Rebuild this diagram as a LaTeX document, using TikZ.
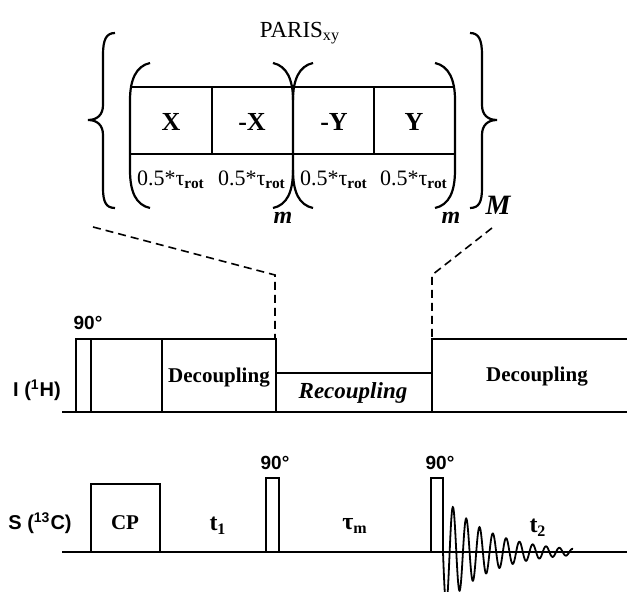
\documentclass[tikz,border=0pt]{standalone}
\usepackage{fontspec}
\setmainfont{Liberation Serif}
\setsansfont{Liberation Sans}
\usetikzlibrary{positioning}

\begin{document}
\begin{tikzpicture}[
    x=0.5pt, y=-0.5pt,
    wire/.style={line width=1pt},
    brace/.style={line width=1.1pt},
    dashline/.style={line width=0.8pt, dash pattern=on 4pt off 2.5pt},
    cell/.style={font=\fontsize{13}{15}\selectfont\bfseries},
    dur/.style={font=\fontsize{11}{13}\selectfont},
    lbl/.style={font=\fontsize{10.5}{12}\selectfont\bfseries},
    tlbl/.style={font=\fontsize{12}{14}\selectfont\bfseries},
    chan/.style={font=\sffamily\fontsize{10}{12}\selectfont\bfseries},
    pulse/.style={font=\sffamily\fontsize{9.5}{11}\selectfont\bfseries},
    rep/.style={font=\fontsize{12}{14}\selectfont\bfseries\itshape},
  ]
    \useasboundingbox (0,0) rectangle (627,592);

    % PARIS block
    \node[font=\fontsize{11.5}{13}\selectfont] (paris) at (300,33) {PARIS\textsubscript{xy}};
    \draw[wire] (130,87) -- (455,87) (130,154) -- (455,154);
    \foreach \xx in {212,293,374}
      \draw[wire] (\xx,87) -- (\xx,154);
    \node[cell] (cx)  at (171,122) {X};
    \node[cell] (cmx) at (252,122) {-X};
    \node[cell] (cmy) at (334,122) {-Y};
    \node[cell] (cy)  at (414,122) {Y};
    \node[dur] (d1) at (171,180) {0.5*τ\textsubscript{\textbf{rot}}};
    \node[dur] (d2) at (252,180) {0.5*τ\textsubscript{\textbf{rot}}};
    \node[dur] (d3) at (334,180) {0.5*τ\textsubscript{\textbf{rot}}};
    \node[dur] (d4) at (414,180) {0.5*τ\textsubscript{\textbf{rot}}};

    % parentheses
    \draw[brace] (150,63) .. controls (136,66) and (130,80) .. (130,100) -- (130,170)
      .. controls (130,192) and (136,205) .. (150,208);
    \draw[brace] (273,63) .. controls (287,66) and (293,80) .. (293,100) -- (293,170)
      .. controls (293,192) and (287,205) .. (273,208);
    \draw[brace] (313,63) .. controls (299,66) and (293,80) .. (293,100);
    \draw[brace] (293,170) .. controls (293,192) and (299,205) .. (313,208);
    \draw[brace] (435,63) .. controls (449,66) and (455,80) .. (455,100) -- (455,170)
      .. controls (455,192) and (449,205) .. (435,208);
    \node[rep] (m1) at (283,218) {m};
    \node[rep] (m2) at (451,218) {m};

    % outer braces
    \draw[brace] (115,33) .. controls (106,33) and (103,40) .. (103,55) -- (103,105)
      .. controls (103,115) and (97,120) .. (88,120)
      .. controls (97,120) and (103,125) .. (103,135) -- (103,188)
      .. controls (103,202) and (106,208) .. (115,208);
    \draw[brace] (470,33) .. controls (479,33) and (482,40) .. (482,55) -- (482,105)
      .. controls (482,115) and (488,120) .. (497,120)
      .. controls (488,120) and (482,125) .. (482,135) -- (482,188)
      .. controls (482,202) and (479,208) .. (470,208);
    \node[rep, font=\fontsize{14}{16}\selectfont\bfseries\itshape] (bigm) at (498,205) {M};

    % zoom lines
    \coordinate (zl) at (93,227);
    \coordinate (zr) at (492,228);
    \coordinate (kl) at (275,275);
    \coordinate (kr) at (432,275);
    \draw[dashline] (zl) -- (kl) -- (275,339);
    \draw[dashline] (zr) -- (kr) -- (432,339);

    % I channel
    \node[chan] (ich) at (37,390) {I (\textsuperscript{1}H)};
    \draw[wire] (62,412) -- (627,412);
    \draw[wire] (76,412) -- (76,339) -- (276,339) -- (276,373) -- (432,373)
      -- (432,339) -- (627,339);
    \draw[wire] (91,339) -- (91,412) (162,339) -- (162,412)
      (276,339) -- (276,412) (432,339) -- (432,412);
    \node[pulse] (p0) at (88,323) {90°};
    \node[lbl] (dec1) at (219,378) {Decoupling};
    \node[lbl, font=\fontsize{11.5}{13}\selectfont\bfseries\itshape] (rec) at (353,393) {Recoupling};
    \node[lbl] (dec2) at (537,377) {Decoupling};

    % S channel
    \node[chan] (sch) at (40,523) {S (\textsuperscript{13}C)};
    \draw[wire] (62,552) -- (627,552);
    \draw[wire] (91,552) -- (91,484) -- (160,484) -- (160,552);
    \draw[wire] (266,552) -- (266,478) -- (279,478) -- (279,552);
    \draw[wire] (431,552) -- (431,478) -- (443,478) -- (443,552);
    \node[lbl] (cp) at (125,523) {CP};
    \node[tlbl] (t1) at (218,526) {t\textsubscript{1}};
    \node[tlbl] (tm) at (355,526) {τ\textsubscript{m}};
    \node[tlbl] (t2) at (538,528) {t\textsubscript{2}};
    \node[pulse] (p1) at (275,463) {90°};
    \node[pulse] (p2) at (440,463) {90°};

    % FID
    \draw[line width=0.9pt] plot[domain=0:130, samples=400, smooth]
      ({443+\x}, {552 + 56*exp(-\x/45)*sin(27.07*\x)});
  \end{tikzpicture}
\end{document}
